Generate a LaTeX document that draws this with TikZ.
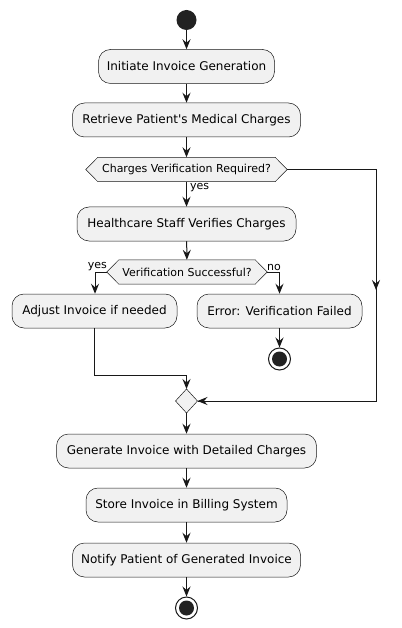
\documentclass[tikz,border=0pt]{standalone}
\usepackage{fontspec}
\setmainfont{DejaVu Sans}[Ligatures=TeXOff]
\usetikzlibrary{arrows.meta,backgrounds}
\definecolor{ln}{HTML}{181818}
\definecolor{bx}{HTML}{F1F1F1}
\definecolor{dk}{HTML}{222222}
\begin{document}
\begin{tikzpicture}[x=1pt,y=-1pt,
  act/.style={draw=ln,line width=0.5pt,fill=bx,rounded corners=12pt,minimum height=34pt,inner sep=0pt,font=\fontsize{12}{14}\selectfont},
  dectext/.style={inner sep=0pt,minimum height=24pt,font=\fontsize{11}{13}\selectfont},
  decshape/.style={draw=ln,line width=0.5pt,fill=bx},
  arr/.style={draw=ln,line width=1pt,-{Stealth[length=10pt,width=8pt,inset=3.5pt]}},
  plain/.style={draw=ln,line width=1pt},
  lbl/.style={inner sep=0pt,font=\fontsize{11}{13}\selectfont}]
\path[use as bounding box] (0,0) rectangle (401,628);

\node[circle,fill=dk,minimum size=20pt,inner sep=0pt] (start) at (186.5,20) {};
\node[act,minimum width=176pt] (b1) at (186.5,66.5) {Initiate Invoice Generation};
\node[act,minimum width=228pt] (b2) at (186.5,120) {Retrieve Patient's Medical Charges};
\node[dectext,minimum width=177pt] (d1) at (186.5,169.5) {Charges Verification Required?};
\coordinate (d1l) at ([xshift=-12pt]d1.west);
\coordinate (d1r) at ([xshift=12pt]d1.east);
\node[act,minimum width=219pt] (b3) at (186.5,224) {Healthcare Staff Verifies Charges};
\node[dectext,minimum width=136pt] (d2) at (187,272) {Verification Successful?};
\coordinate (d2l) at ([xshift=-12pt]d2.west);
\coordinate (d2r) at ([xshift=12pt]d2.east);
\node[act,minimum width=165pt] (b4) at (94.5,311) {Adjust Invoice if needed};
\node[act,minimum width=165pt] (b5) at (279.5,311) {Error: Verification Failed};
\node[circle,draw=ln,line width=1pt,fill=white,minimum size=22pt,inner sep=0pt] (stop2) at (279.5,359) {};
\node[circle,fill=dk,minimum size=15pt,inner sep=0pt] at (stop2) {};
\coordinate (m) at (186.5,401);
\coordinate (mt) at (186.5,389);
\coordinate (mb) at (186.5,413);
\coordinate (ml) at (175.5,401);
\coordinate (mr) at (197.5,401);
\node[act,minimum width=260pt] (b6) at (186.5,451) {Generate Invoice with Detailed Charges};
\node[act,minimum width=201pt] (b7) at (186.5,505) {Store Invoice in Billing System};
\node[act,minimum width=228pt] (b8) at (186.5,560) {Notify Patient of Generated Invoice};
\node[circle,draw=ln,line width=1pt,fill=white,minimum size=22pt,inner sep=0pt] (stop) at (186.5,608) {};
\node[circle,fill=dk,minimum size=15pt,inner sep=0pt] at (stop) {};

\begin{pgfonlayer}{background}
\path[decshape] (d1.north west) -- (d1.north east) -- (d1r) -- (d1.south east) -- (d1.south west) -- (d1l) -- cycle;
\path[decshape] (d2.north west) -- (d2.north east) -- (d2r) -- (d2.south east) -- (d2.south west) -- (d2l) -- cycle;
\end{pgfonlayer}
\path[decshape] (mt) -- (mr) -- (mb) -- (ml) -- cycle;

\coordinate (c1) at (376,169.5);
\coordinate (c2) at (376,401);
\coordinate (c3) at (376,290);
\coordinate (l1) at (95,272);
\coordinate (r1) at (279.5,272);
\coordinate (k1) at (94.5,375);
\coordinate (k2) at (186.5,375);

\draw[arr] (start) -- (b1);
\draw[arr] (b1) -- (b2);
\draw[arr] (b2) -- (d1);
\draw[arr] (d1) -- (b3);
\node[lbl,anchor=north west] (y1) at (190,183) {yes};
\draw[plain] (d1r) -- (c1) -- (c2) -- (mr);
\draw[arr] (c1) -- (c3);
\draw[arr] (c2) -- (mr);
\draw[arr] (b3) -- (d2);
\draw[arr] (d2l) -- (l1) -- (b4.north-|l1);
\node[lbl,anchor=south east] (y2) at (107,271) {yes};
\draw[arr] (d2r) -- (r1) -- (b5);
\node[lbl,anchor=south west] (n2) at (267,271) {no};
\draw[arr] (b5) -- (stop2);
\draw[arr] (b4.south) -- (k1) -- (k2) -- (mt);
\draw[arr] (mb) -- (b6);
\draw[arr] (b6) -- (b7);
\draw[arr] (b7) -- (b8);
\draw[arr] (b8) -- (stop);
\end{tikzpicture}
\end{document}
